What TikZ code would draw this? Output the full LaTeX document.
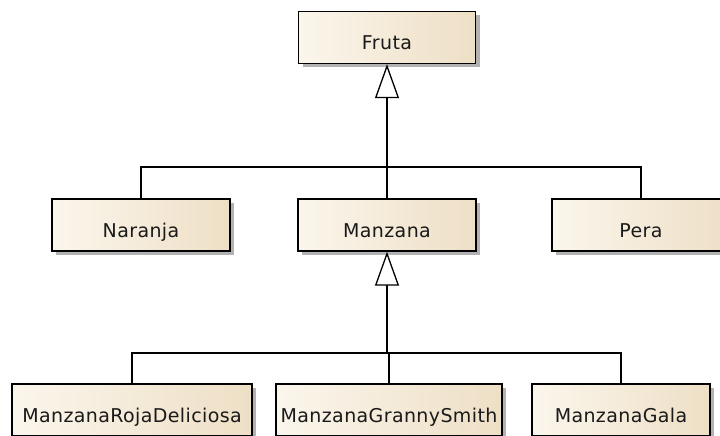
\documentclass[tikz,border=0pt]{standalone}
\usepackage{fontspec}
\setmainfont[LetterSpace=2]{DejaVu Sans}
\usetikzlibrary{arrows.meta,shadows}
\definecolor{boxleft}{HTML}{FBF6EC}
\definecolor{boxright}{HTML}{EEDFC6}
\definecolor{ink}{HTML}{1A1A1A}
\tikzset{
  classbox/.style={draw=black, line width=1.4pt, left color=boxleft, right color=boxright,
    minimum height=52pt, inner sep=0pt, text=ink, font=\fontsize{19}{21}\selectfont,
    text height=24pt, text depth=0pt,
    drop shadow={shadow xshift=4pt, shadow yshift=-4pt, opacity=0.3, fill=black}},
  link/.style={draw=black, line width=1.3pt},
  inherit/.style={link, -{Triangle[length=34pt, width=24pt, fill=white, line width=1.3pt]}}
}
\begin{document}
\begin{tikzpicture}[x=1pt, y=-1pt]
  \useasboundingbox (0,0) rectangle (720,436);
  \clip (0,0) rectangle (720,436);
  \fill[white] (0,0) rectangle (720,436);

  % class boxes
  \node[classbox, minimum width=177pt] (fruta)   at (387,37.5) {Fruta};
  \node[classbox, minimum width=178pt] (naranja) at (141,225)  {Naranja};
  \node[classbox, minimum width=178pt] (manzana) at (387,225)  {Manzana};
  \node[classbox, minimum width=178pt] (pera)    at (641,225)  {Pera};
  \node[classbox, minimum width=240pt] (roja)    at (132,410)  {ManzanaRojaDeliciosa};
  \node[classbox, minimum width=226pt] (granny)  at (389,410)  {ManzanaGrannySmith};
  \node[classbox, minimum width=178pt] (gala)    at (621,410)  {ManzanaGala};

  % junction points of the inheritance trees
  \coordinate (j1) at (387,167);
  \coordinate (j2) at (387,353);

  % first level: Naranja, Manzana, Pera inherit from Fruta
  \draw[link] (naranja.north) |- (j1) -| (pera.north);
  \draw[link] (manzana.north) -- (j1);
  \draw[inherit] (j1) -- (fruta.south);

  % second level: the apple varieties inherit from Manzana
  \draw[link] (roja.north) |- (j2) -| (gala.north);
  \draw[link] (granny.north) -- (granny.north |- j2);
  \draw[inherit] (j2) -- (manzana.south);
\end{tikzpicture}
\end{document}
